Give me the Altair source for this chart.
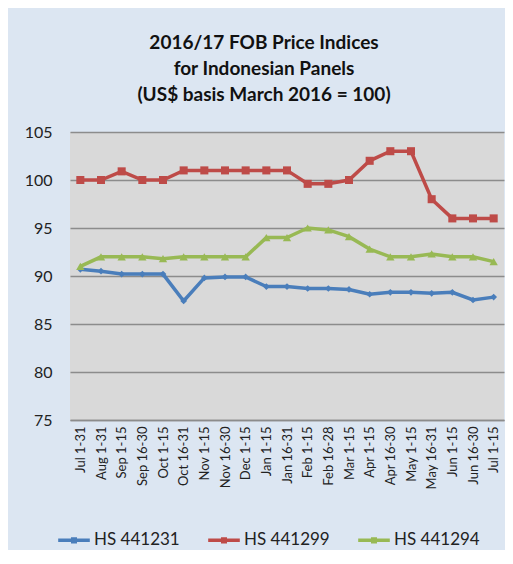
import altair as alt
import pandas as pd

periods = ["Jul 1-31", "Aug 1-31", "Sep 1-15", "Sep 16-30", "Oct 1-15", "Oct 16-31",
           "Nov 1-15", "Nov 16-30", "Dec 1-15", "Jan 1-15", "Jan 16-31", "Feb 1-15",
           "Feb 16-28", "Mar 1-15", "Apr 1-15", "Apr 16-30", "May 1-15", "May 16-31",
           "Jun 1-15", "Jun 16-30", "Jul 1-15"]

hs441231 = [90.7, 90.5, 90.2, 90.2, 90.2, 87.4, 89.8, 89.9, 89.9, 88.9, 88.9, 88.7,
            88.7, 88.6, 88.1, 88.3, 88.3, 88.2, 88.3, 87.5, 87.8]
hs441299 = [100.0, 100.0, 100.9, 100.0, 100.0, 101.0, 101.0, 101.0, 101.0, 101.0, 101.0, 99.6,
            99.6, 100.0, 102.0, 103.0, 103.0, 98.0, 96.0, 96.0, 96.0]
hs441294 = [91.0, 92.0, 92.0, 92.0, 91.8, 92.0, 92.0, 92.0, 92.0, 94.0, 94.0, 95.0,
            94.8, 94.1, 92.8, 92.0, 92.0, 92.3, 92.0, 92.0, 91.5]

series_names = ["HS 441231", "HS 441299", "HS 441294"]
series_colors = ["#4a7ebb", "#be4b48", "#98b954"]
series_shapes = ["diamond", "square", "triangle-up"]
series_sizes = [45, 65, 70]

rows = []
for name, vals in zip(series_names, [hs441231, hs441299, hs441294]):
    for i, (p, v) in enumerate(zip(periods, vals)):
        rows.append({"period": p, "series": name, "value": v, "order": i})
df = pd.DataFrame(rows)

FONT = "Lato"

x = alt.X("period:N", sort=periods, title=None,
          scale=alt.Scale(type="point", padding=0.5),
          axis=alt.Axis(labelAngle=-90, labelFontSize=13, labelColor="#222222",
                        labelPadding=6, ticks=False, domainColor="#8c8c8c",
                        domainWidth=1.5, grid=False, labelFont=FONT))
y = alt.Y("value:Q", title=None,
          scale=alt.Scale(domain=[75, 105], nice=False, zero=False),
          axis=alt.Axis(values=[75, 80, 85, 90, 95, 100, 105], labelFontSize=16,
                        labelColor="#222222", labelPadding=18, ticks=False, domain=False,
                        gridColor="#8c8c8c", gridWidth=1.5, labelFont=FONT))
color = alt.Color("series:N", sort=series_names,
                  scale=alt.Scale(domain=series_names, range=series_colors),
                  legend=alt.Legend(title=None, orient="none", legendX=-14, legendY=390,
                                    direction="horizontal", columns=3, columnPadding=21,
                                    labelFontSize=17, labelFont=FONT, labelColor="#222222",
                                    symbolType="M-1,0L1,0 M-0.08,-0.08L0.08,-0.08L0.08,0.08L-0.08,0.08Z",
                                    symbolSize=1000, symbolStrokeWidth=3.5, labelOffset=2))

base = alt.Chart(df)
lines = base.mark_line(strokeWidth=3.5).encode(x=x, y=y, color=color, order="order:Q")

layers = [lines]
for name, col, shp, sz in zip(series_names, series_colors, series_shapes, series_sizes):
    layers.append(
        base.transform_filter(alt.datum.series == name)
        .mark_point(filled=True, opacity=1, shape=shp, size=sz, color=col)
        .encode(x=x, y=y)
    )

chart = alt.layer(*layers).properties(
    width=434, height=288,
    title=alt.TitleParams(
        text=["2016/17 FOB Price Indices", "for Indonesian Panels", "(US$ basis  March  2016 = 100)"],
        fontSize=19, font=FONT, fontWeight="bold", color="#111111",
        lineHeight=26, anchor="middle", dx=-23, offset=19),
    autosize=alt.AutoSizeParams(type="none"),
    padding={"left": 62, "top": 124, "right": 1, "bottom": 130},
    background="#dce6f2",
).configure_view(fill="#d9d9d9", stroke=None)

chart.save("out.html", embed_options={"renderer": "svg", "actions": False})
